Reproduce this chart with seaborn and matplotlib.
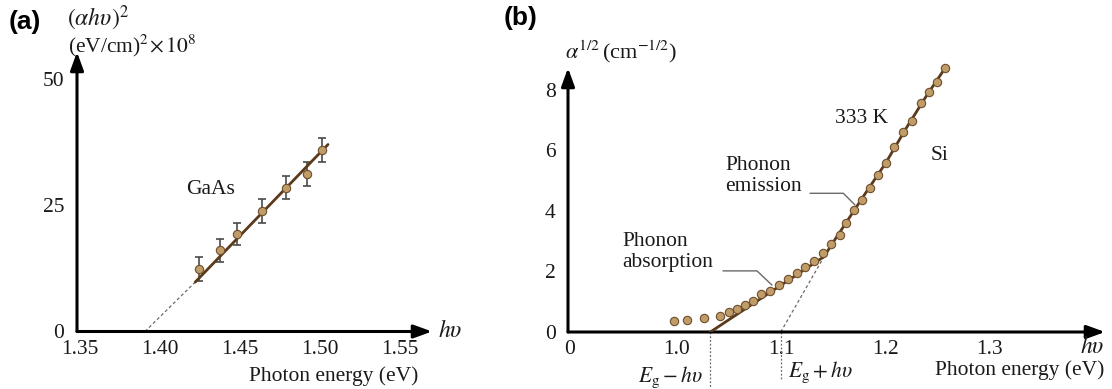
import numpy as np
import pandas as pd
import matplotlib
matplotlib.use("Agg")
import matplotlib.pyplot as plt
import seaborn as sns

# ---------------- data ----------------
# (a) GaAs: (alpha*h*nu)^2 versus photon energy
gaas_energy = [1.4246, 1.4375, 1.448, 1.464, 1.4786, 1.4919, 1.5015]
gaas_value = [12.4, 16.1, 19.4, 23.9, 28.5, 31.2, 36.0]
gaas_err = [2.3, 2.3, 2.2, 2.3, 2.3, 2.4, 2.4]
gaas_fit_energy = [1.422, 1.505]
gaas_fit_value = [9.8, 37.1]
gaas_gap = 1.3906
gaas_xticks = [1.35, 1.40, 1.45, 1.50, 1.55]
gaas_xticklabels = ["1.35", "1.40", "1.45", "1.50", "1.55"]
gaas_yticks = [0, 25, 50]

# (b) Si at 333 K: alpha^(1/2) versus photon energy
si_energy = [0.997, 1.010, 1.026, 1.041, 1.050, 1.058, 1.065, 1.073, 1.081,
             1.089, 1.098, 1.106, 1.115, 1.123, 1.131, 1.140, 1.148, 1.156,
             1.162, 1.170, 1.177, 1.185, 1.193, 1.200, 1.208, 1.217, 1.225,
             1.234, 1.242, 1.249, 1.257]
si_value = [0.38, 0.40, 0.46, 0.53, 0.67, 0.77, 0.89, 1.04, 1.24, 1.36, 1.56,
            1.75, 1.96, 2.16, 2.36, 2.60, 2.91, 3.21, 3.60, 4.02, 4.36, 4.75,
            5.19, 5.58, 6.11, 6.61, 6.97, 7.56, 7.92, 8.27, 8.72]
si_fit_energy = [1.032, 1.141, 1.150, 1.160, 1.180, 1.200, 1.220, 1.240, 1.257]
si_fit_value = [0.0, 2.49, 2.98, 3.50, 4.55, 5.58, 6.75, 7.85, 8.72]
si_eg_minus = 1.032   # Eg - h nu (phonon absorption threshold)
si_eg_plus = 1.0995   # Eg + h nu (phonon emission threshold)
si_knee = (1.141, 2.49)
si_xticks = [0.897, 1.0, 1.1, 1.2, 1.3]
si_xticklabels = ["0", "1.0", "1.1", "1.2", "1.3"]
si_yticks = [0, 2, 4, 6, 8]

# ---------------- style ----------------
sns.set_theme(style="white")
plt.rcParams["font.family"] = ["Liberation Serif", "DejaVu Serif"]
plt.rcParams["mathtext.fontset"] = "stix"
FS = 15
LINE_C = "#5a3a1a"
FACE_C = "#c09c68"
EDGE_C = "#6e4e2c"
GREY = "#6a6a6a"
TXT = "#1a1a1a"

W, H = 1112, 389
fig = plt.figure(figsize=(W / 100, H / 100), dpi=100)
fig.patch.set_facecolor("white")


def px_axes(left, top, right, bottom):
    return fig.add_axes([left / W, 1 - bottom / H, (right - left) / W, (bottom - top) / H])


def fig_text(x, y, s, **kw):
    kw.setdefault("color", TXT)
    fig.text(x / W, 1 - y / H, s, **kw)


def arrow_axes(ax):
    for sp in ax.spines.values():
        sp.set_visible(False)
    head = "-|>,head_length=0.55,head_width=0.2"
    for end in [(1, 0), (0, 1)]:
        ax.annotate("", xy=end, xytext=(0, 0), xycoords="axes fraction",
                    textcoords="axes fraction",
                    arrowprops=dict(arrowstyle=head, lw=2.2, color="black",
                                    mutation_scale=20, shrinkA=0, shrinkB=0),
                    annotation_clip=False)
    ax.tick_params(axis="both", length=0, labelsize=FS + 0.5, colors=TXT)
    ax.set_facecolor("white")
    ax.grid(False)


# ---------------- panel (a) ----------------
ax_a = px_axes(77, 52, 432, 331.5)
ax_a.set_xlim(1.3481, 1.5700)
ax_a.set_ylim(0, 55.45)
arrow_axes(ax_a)

df_a = pd.DataFrame({"energy": gaas_energy, "value": gaas_value})
df_afit = pd.DataFrame({"energy": gaas_fit_energy, "value": gaas_fit_value})
ax_a.plot([gaas_gap, gaas_fit_energy[0]], [0, gaas_fit_value[0]],
          ls=(0, (2.5, 2)), lw=0.9, color=GREY)
ax_a.errorbar(gaas_energy, gaas_value, yerr=gaas_err, fmt="none",
              ecolor="#4a4a4a", elinewidth=1.2, capsize=3, capthick=1.2, zorder=2)
sns.lineplot(data=df_afit, x="energy", y="value", ax=ax_a, color=LINE_C,
             lw=2.0, sort=False, zorder=3)
sns.scatterplot(data=df_a, x="energy", y="value", ax=ax_a, s=36,
                color=FACE_C, edgecolor=EDGE_C, linewidth=0.8, zorder=4)
ax_a.set_xlabel("")
ax_a.set_ylabel("")
ax_a.set_xticks(gaas_xticks)
ax_a.set_xticklabels(gaas_xticklabels)
ax_a.set_yticks(gaas_yticks)
ax_a.tick_params(axis="x", pad=6)
ax_a.tick_params(axis="y", pad=9)
ax_a.text(1.4313, 28.1, "GaAs", fontsize=FS + 0.5, ha="center", va="center",
          color=TXT)

fig_text(9, 22, "(a)", fontsize=19, fontweight="bold",
         family=["Liberation Sans", "DejaVu Sans"], va="center", ha="left",
         color="black")
fig_text(67, 18, r"$(\alpha h\upsilon)^2$", fontsize=FS + 2, va="center", ha="left")
fig_text(68, 46, r"(eV/cm)$^2\!\times 10^8$", fontsize=FS + 0.5, va="center",
         ha="left")
fig_text(438, 331, r"$h\upsilon$", fontsize=FS + 2, va="center", ha="left")
fig_text(418, 376, "Photon energy (eV)", fontsize=FS + 0.5, va="center", ha="right")

# ---------------- panel (b) ----------------
ax_b = px_axes(568, 68, 1105, 332)
ax_b.set_xlim(0.8955, 1.4104)
ax_b.set_ylim(0, 8.727)
arrow_axes(ax_b)

df_b = pd.DataFrame({"energy": si_energy, "value": si_value})
df_bfit = pd.DataFrame({"energy": si_fit_energy, "value": si_fit_value})

# threshold markers below the axis
ax_b.plot([si_eg_minus, si_eg_minus], [0, -1.82], ls=(0, (1.5, 1.5)), lw=0.9,
          color=GREY, clip_on=False)
ax_b.plot([si_eg_plus, si_eg_plus], [0, -1.60], ls=(0, (1.5, 1.5)), lw=0.9,
          color=GREY, clip_on=False)
# extrapolation of the phonon-emission branch
ax_b.plot([si_eg_plus, si_knee[0]], [0, si_knee[1]], ls=(0, (2.5, 2)), lw=0.9,
          color=GREY)

sns.lineplot(data=df_bfit, x="energy", y="value", ax=ax_b, color=LINE_C,
             lw=2.0, sort=False, zorder=3)
sns.scatterplot(data=df_b, x="energy", y="value", ax=ax_b, s=36,
                color=FACE_C, edgecolor=EDGE_C, linewidth=0.8, zorder=4,
                clip_on=False)
ax_b.set_xlabel("")
ax_b.set_ylabel("")
ax_b.set_xticks(si_xticks)
ax_b.set_xticklabels(si_xticklabels)
ax_b.set_yticks(si_yticks)
ax_b.tick_params(axis="x", pad=6)
ax_b.tick_params(axis="y", pad=9)

ax_b.text(0.9473, 2.63, "Phonon\nabsorption", fontsize=FS + 0.5, ha="left",
          va="center", linespacing=1.15, color=TXT)
ax_b.plot([1.0441, 1.0767, 1.0911], [2.02, 2.02, 1.55], color=GREY, lw=1.0)
ax_b.text(1.046, 5.16, "Phonon\nemission", fontsize=FS + 0.5, ha="left",
          va="center", linespacing=1.15, color=TXT)
ax_b.plot([1.1275, 1.1595, 1.1707], [4.585, 4.585, 4.20], color=GREY, lw=1.0)
ax_b.text(1.177, 7.05, "333 K", fontsize=FS + 0.5, ha="center", va="center",
          color=TXT)
ax_b.text(1.252, 5.84, "Si", fontsize=FS + 0.5, ha="center", va="center",
          color=TXT)

ax_b.text(si_eg_minus - 0.007, -1.49, r"$E_{\rm g} - h\upsilon$", fontsize=FS + 0.5,
          ha="right", va="center", clip_on=False, color=TXT)
ax_b.text(si_eg_plus + 0.007, -1.32, r"$E_{\rm g} + h\upsilon$", fontsize=FS + 0.5,
          ha="left", va="center", clip_on=False, color=TXT)

fig_text(504, 18, "(b)", fontsize=19, fontweight="bold",
         family=["Liberation Sans", "DejaVu Sans"], va="center", ha="left",
         color="black")
fig_text(565, 52, r"$\alpha^{1/2}\,$(cm$^{-1/2}$)", fontsize=FS + 1, va="center",
         ha="left")
fig_text(1104, 347, r"$h\upsilon$", fontsize=FS + 2, va="center", ha="right")
fig_text(1104, 370, "Photon energy (eV)", fontsize=FS + 0.5, va="center",
         ha="right")

fig.savefig("out.png", dpi=100, facecolor="white")
